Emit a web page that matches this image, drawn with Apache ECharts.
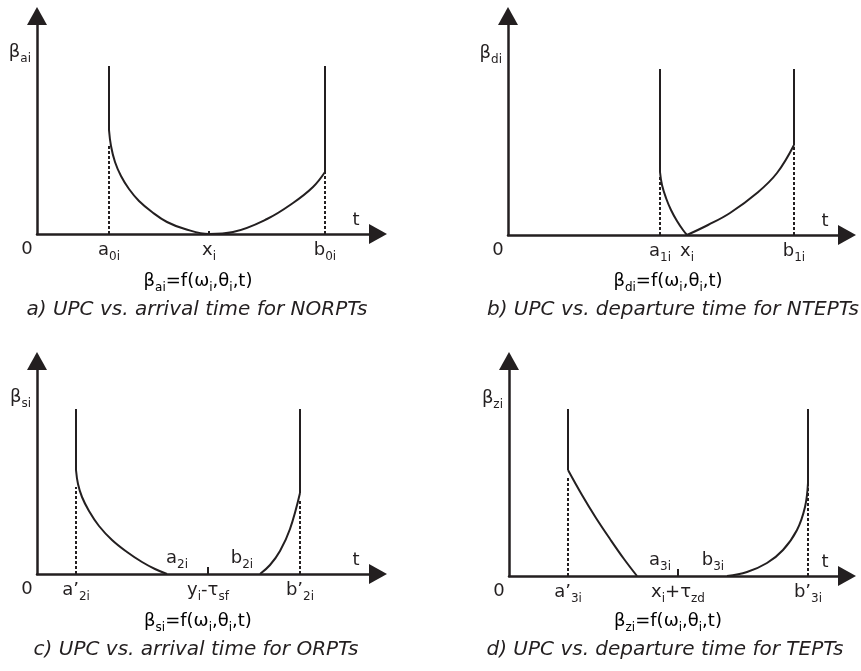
<!DOCTYPE html>
<html>
<head>
<meta charset="utf-8">
<script src="https://cdn.jsdelivr.net/npm/echarts@6/dist/echarts.min.js"></script>
<style>
  html, body { margin: 0; background: #fff; }
  #main { width: 861px; height: 671px; }
</style>
</head>
<body>
<div id="main"></div>
<script>
// curve points [t, beta]
var curveA = [[72,104],[74,88],[78,72],[84,58],[92,45],[102,33],[115,22],[130,12],[148,5],[172,0],[196,2],[230,15],[256,31],[276,47],[288,62]];
var curveB1 = [[152,63],[154,50],[158,37],[163,25],[169,14],[175,5],[179,0]];
var curveB2 = [[179,0],[200,10],[222,22],[249,42],[269,62],[286,90]];
var curveC1 = [[39,104],[41,90],[45,77],[52,63],[62,48],[75,34],[90,22],[105,12],[118,5],[130,0]];
var curveC2 = [[223,0],[233,9],[243,23],[253,45],[263,81]];
var curveD1 = [[59,106],[73,81],[87,58],[101,37],[115,17],[128,0]];
var curveD2 = [[218,0],[238,4],[258,13],[274,26],[288,46],[296,69],[299,93]];

// top of the vertical walls and of the dashed drop lines
var wallTop = [168, 166, 165, 167];
var dashTopA = [90, 62];
var dashTopB = [58, 90];
var dashTopC = [87, 74];
var dashTopD = [98, 93];

// labels under the t axis
var ticksA = [72, 172, 288];
var tickTextA = ['{m|a}{s|0i}', '{m|x}{s|i}', '{m|b}{s|0i}'];
var ticksB = [152, 179, 286];
var tickTextB = ['{m|a}{s|1i}', '{m|x}{s|i}', '{m|b}{s|1i}'];
var ticksC = [39, 171, 263];
var tickTextC = ['{m|a’}{s|2i}', '{m|y}{s|i}{m|-τ}{s|sf}', '{m|b’}{s|2i}'];
var ticksD = [59, 169, 299];
var tickTextD = ['{m|a’}{s|3i}', '{m|x}{s|i}{m|+τ}{s|zd}', '{m|b’}{s|3i}'];

// labels sitting above the t axis (panels c, d)
var upperC = [140, 205];
var upperTextC = ['{m|a}{s|2i}', '{m|b}{s|2i}'];
var upperD = [151, 204];
var upperTextD = ['{m|a}{s|3i}', '{m|b}{s|3i}'];

var yNames = ['{m|β}{s|ai}', '{m|β}{s|di}', '{m|β}{s|si}', '{m|β}{s|zi}'];
var yNamePos = [180, 180, 175, 176];
var formulas = ['ai', 'di', 'si', 'zi'];
var captions = [
  'a) UPC vs. arrival time for NORPTs',
  'b) UPC vs. departure time for NTEPTs',
  'c) UPC vs. arrival time for ORPTs',
  'd) UPC vs. departure time for TEPTs'
];

var INK = '#231f20';
var FONT = 'DejaVu Sans';
var rich = {
  m: { fontSize: 18, lineHeight: 20, verticalAlign: 'top', fontFamily: FONT, color: INK },
  s: { fontSize: 12, lineHeight: 22, verticalAlign: 'bottom', fontFamily: FONT, color: INK }
};

var grids = [
  { left: 37, top: 16, width: 341, height: 218 },
  { left: 508, top: 16, width: 339, height: 219 },
  { left: 37, top: 361, width: 341, height: 213 },
  { left: 509, top: 361, width: 338, height: 215 }
];

var panels = [
  { curves: [curveA], dash: dashTopA, ticks: ticksA, text: tickTextA, mark: 172, markLen: 3 },
  { curves: [curveB1, curveB2], dash: dashTopB, ticks: ticksB, text: tickTextB, mark: null, markLen: 0 },
  { curves: [curveC1, curveC2], dash: dashTopC, ticks: ticksC, text: tickTextC, mark: 171, markLen: 7, up: upperC, upText: upperTextC },
  { curves: [curveD1, curveD2], dash: dashTopD, ticks: ticksD, text: tickTextD, mark: 169, markLen: 7, up: upperD, upText: upperTextD }
];

var xAxes = [], yAxes = [], series = [];

panels.forEach(function (p, i) {
  var g = grids[i];
  var axisLine = {
    symbol: ['none', 'triangle'],
    symbolSize: [20, 18],
    lineStyle: { color: INK, width: 2.5 }
  };
  xAxes.push({
    gridIndex: i, type: 'value', min: 0, max: g.width,
    axisLine: axisLine,
    splitLine: { show: false },
    axisTick: p.mark == null ? { show: false } : {
      show: true, inside: true, length: p.markLen, customValues: [p.mark],
      lineStyle: { color: INK, width: 2 }
    },
    axisLabel: {
      customValues: p.ticks, margin: 7, rich: rich,
      formatter: function (v) { return p.text[p.ticks.indexOf(v)] || ''; }
    },
    name: 't', nameLocation: 'end', nameGap: -22,
    nameTextStyle: { fontFamily: FONT, fontSize: 18, color: INK, align: 'center', verticalAlign: 'bottom', lineHeight: 20, padding: [0, 0, 4, 0] }
  });
  yAxes.push({
    gridIndex: i, type: 'value', min: 0, max: g.height,
    axisLine: axisLine,
    splitLine: { show: false },
    axisTick: { show: false },
    axisLabel: {
      customValues: [yNamePos[i]], margin: 6, rich: rich,
      formatter: function () { return yNames[i]; }
    }
  });

  var first = p.curves[0][0];
  var lastCurve = p.curves[p.curves.length - 1];
  var last = lastCurve[lastCurve.length - 1];
  var lineBase = { type: 'line', xAxisIndex: i, yAxisIndex: i, showSymbol: false, symbol: 'none', silent: true };

  p.curves.forEach(function (c) {
    series.push(Object.assign({}, lineBase, {
      data: c, smooth: 0.4,
      lineStyle: { color: INK, width: 2 }
    }));
  });
  // vertical walls and dashed drop lines
  [first, last].forEach(function (pt, k) {
    series.push(Object.assign({}, lineBase, {
      data: [[pt[0], pt[1]], [pt[0], wallTop[i]]],
      lineStyle: { color: INK, width: 2 }
    }));
    series.push(Object.assign({}, lineBase, {
      data: [[pt[0], 0], [pt[0], p.dash[k]]],
      lineStyle: { color: INK, width: 2, type: [3, 2] }
    }));
  });
  if (p.up) {
    series.push({
      type: 'scatter', xAxisIndex: i, yAxisIndex: i, silent: true,
      symbolSize: 0,
      data: p.up.map(function (x) { return [x, 0]; }),
      label: {
        show: true, position: 'top', distance: 3, rich: rich, color: INK, opacity: 1,
        formatter: function (d) { return p.upText[d.dataIndex]; }
      }
    });
  }
});

var centers = [[198, 197], [668, 673], [198, 196], [668, 665]];
var rowY = [[283, 310], [623, 650]];
var graphics = [];
captions.forEach(function (c, i) {
  var row = rowY[i < 2 ? 0 : 1];
  graphics.push({
    type: 'text', x: centers[i][0], y: row[0],
    style: {
      text: '{m|β}{s|' + formulas[i] + '}{m|=f(ω}{s|i}{m|,θ}{s|i}{m|,t)}',
      rich: rich, align: 'center', verticalAlign: 'middle'
    }
  });
  graphics.push({
    type: 'text', x: centers[i][1], y: row[1],
    style: {
      text: c, font: 'italic 20px "DejaVu Sans"', fill: INK,
      align: 'center', verticalAlign: 'middle'
    }
  });
  graphics.push({
    type: 'text', x: grids[i].left - 10, y: grids[i].top + grids[i].height + 15,
    style: { text: '0', font: '18px "DejaVu Sans"', fill: INK, align: 'center', verticalAlign: 'middle' }
  });
});

var chart = echarts.init(document.getElementById('main'));
chart.setOption({
  animation: false,
  backgroundColor: '#fff',
  grid: grids.map(function (g) { return Object.assign({ containLabel: false, outerBoundsMode: 'none' }, g); }),
  xAxis: xAxes,
  yAxis: yAxes,
  series: series,
  graphic: graphics
});
</script>
</body>
</html>
